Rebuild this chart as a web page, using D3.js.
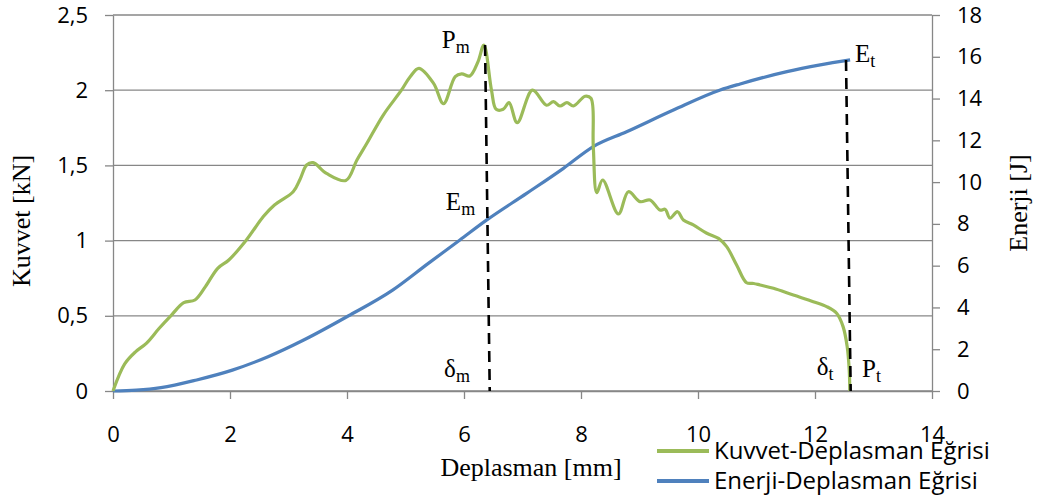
<!DOCTYPE html>
<html><head><meta charset="utf-8">
<script src="https://cdn.jsdelivr.net/npm/d3@7"></script>
<style>
html,body{margin:0;padding:0;background:#fff;}
svg{display:block;}
</style>
</head><body>
<svg id="chart" width="1042" height="500"></svg>
<script>
// ---- Data ----
const forceX = [0,0.2,0.39,0.57,0.79,1.0,1.21,1.40,1.58,1.79,1.98,2.28,2.57,2.76,3.08,3.2,3.31,3.42,3.65,3.98,4.17,4.34,4.62,4.93,5.08,5.23,5.48,5.65,5.85,5.96,6.10,6.24,6.34,6.47,6.55,6.67,6.77,6.91,7.17,7.41,7.53,7.64,7.76,7.87,8.07,8.17,8.21,8.27,8.37,8.64,8.81,9.01,9.18,9.35,9.44,9.52,9.65,9.75,9.92,10.15,10.35,10.49,10.66,10.83,10.95,11.06,11.29,11.63,11.97,12.20,12.37,12.48,12.55,12.585,12.595];
const forceY = [0,0.18,0.262,0.317,0.417,0.505,0.587,0.605,0.694,0.816,0.871,1.004,1.16,1.237,1.325,1.41,1.503,1.518,1.447,1.40,1.536,1.647,1.835,2.0,2.09,2.145,2.045,1.91,2.09,2.108,2.095,2.19,2.30,2.0,1.873,1.873,1.917,1.784,2.0,1.90,1.924,1.895,1.917,1.895,1.96,1.946,1.624,1.318,1.403,1.177,1.325,1.259,1.27,1.203,1.208,1.150,1.192,1.137,1.104,1.049,1.015,0.96,0.838,0.72,0.715,0.705,0.683,0.638,0.594,0.561,0.517,0.428,0.295,0.14,0];
const energyX = [0,0.4,0.82,1.43,2.04,2.65,3.26,4.02,4.78,5.39,5.93,6.39,7.07,7.70,8.21,8.78,9.58,10.38,10.72,11.52,12.09,12.60];
const energyY = [0,0.04,0.16,0.53,1.0,1.64,2.44,3.59,4.83,6.11,7.23,8.19,9.46,10.66,11.70,12.41,13.45,14.41,14.70,15.29,15.61,15.85];
const xTicks = [0,2,4,6,8,10,12,14];
const leftTicks = [0,0.5,1,1.5,2,2.5];
const leftTickLabels = ["0","0,5","1","1,5","2","2,5"];
const rightTicks = [0,2,4,6,8,10,12,14,16,18];
// dashed marker lines: [xTop, yTop(kN), xBottom, yBottom(kN)]
const markerLines = [[6.36,2.30,6.44,0],[12.53,2.201,12.61,0]];
// annotation labels: [main, sub, x, y(kN)]
const annotations = [["P","m",5.62,2.281],["E","m",5.69,1.203],["E","t",12.684,2.188],["δ","m",5.66,0.093],["δ","t",12.03,0.106],["P","t",12.803,0.093]];
const seriesNames = ["Kuvvet-Deplasman Eğrisi","Enerji-Deplasman Eğrisi"];
const seriesColors = ["#9BBB59","#4F81BD"];

// ---- Chart ----
const svg = d3.select("#chart");
const L=113, R=932, T=15, B=391;
const x = d3.scaleLinear().domain([0,14]).range([L,R]);
const yL = d3.scaleLinear().domain([0,2.5]).range([B,T]);
const yR = d3.scaleLinear().domain([0,18]).range([B,T]);
const gridColor = "#878787";
const sans = "'Open Sans', Lato, sans-serif";
const serif = "'Liberation Serif', 'DejaVu Serif', serif";

// gridlines
svg.append("g").selectAll("line").data(leftTicks).join("line")
  .attr("x1",L).attr("x2",R).attr("y1",d=>yL(d)).attr("y2",d=>yL(d))
  .attr("stroke",gridColor).attr("stroke-width",1.3);

function styleAxis(g){
  g.selectAll("path.domain").attr("stroke",gridColor).attr("stroke-width",1.3);
  g.selectAll(".tick line").attr("stroke",gridColor).attr("stroke-width",1.3);
  g.selectAll(".tick text").attr("fill","#000").style("font-family",sans).style("font-size","22px");
}
const gl = svg.append("g").attr("transform",`translate(${L},0)`)
  .call(d3.axisLeft(yL).tickValues(leftTicks).tickFormat((d,i)=>leftTickLabels[i]).tickSize(8).tickSizeOuter(0).tickPadding(17));
styleAxis(gl);
const gr = svg.append("g").attr("transform",`translate(${R},0)`)
  .call(d3.axisRight(yR).tickValues(rightTicks).tickSize(8).tickSizeOuter(0).tickPadding(17));
styleAxis(gr);
const gb = svg.append("g").attr("transform",`translate(0,${B})`)
  .call(d3.axisBottom(x).tickValues(xTicks).tickSize(8).tickSizeOuter(0).tickPadding(27));
styleAxis(gb);
gb.selectAll(".tick text").attr("dy","0.71em");

// lines
const lineF = d3.line().x(d=>x(d[0])).y(d=>yL(d[1])).curve(d3.curveCatmullRom.alpha(0.5));
const lineE = d3.line().x(d=>x(d[0])).y(d=>yR(d[1])).curve(d3.curveMonotoneX);
const forceData = forceX.map((v,i)=>[v,forceY[i]]);
const energyData = energyX.map((v,i)=>[v,energyY[i]]);

svg.append("path").datum(energyData).attr("d",lineE).attr("fill","none")
  .attr("stroke",seriesColors[1]).attr("stroke-width",3.2).attr("stroke-linejoin","round");
svg.append("path").datum(forceData).attr("d",lineF).attr("fill","none")
  .attr("stroke",seriesColors[0]).attr("stroke-width",3.2).attr("stroke-linejoin","round");

// dashed markers
svg.append("g").selectAll("line").data(markerLines).join("line")
  .attr("x1",d=>x(d[0])).attr("y1",d=>yL(d[1])).attr("x2",d=>x(d[2])).attr("y2",d=>yL(d[3]))
  .attr("stroke","#000").attr("stroke-width",2.6).attr("stroke-dasharray","11,7");

// annotations
const ann = svg.append("g").selectAll("text").data(annotations).join("text")
  .attr("x",d=>x(d[2])).attr("y",d=>yL(d[3]))
  .style("font-family",serif).style("font-size","25px").attr("fill","#000");
ann.append("tspan").text(d=>d[0]);
ann.append("tspan").attr("dy",5).style("font-size","18px").text(d=>d[1]);

// axis titles
svg.append("text").attr("transform","translate(30,221) rotate(-90)").attr("text-anchor","middle")
  .style("font-family",serif).style("font-size","26px").text("Kuvvet [kN]");
svg.append("text").attr("transform","translate(1027,203) rotate(-90)").attr("text-anchor","middle")
  .style("font-family",serif).style("font-size","26px").text("Enerji [J]");
svg.append("text").attr("x",531).attr("y",476).attr("text-anchor","middle")
  .style("font-family",serif).style("font-size","26px").text("Deplasman [mm]");

// legend
const lg = svg.append("g").selectAll("g").data(seriesNames).join("g")
  .attr("transform",(d,i)=>`translate(657,${451+i*30})`);
lg.append("line").attr("x1",0).attr("x2",52).attr("y1",0).attr("y2",0)
  .attr("stroke",(d,i)=>seriesColors[i]).attr("stroke-width",4);
lg.append("text").attr("x",57).attr("y",8).text(d=>d)
  .style("font-family",sans).style("font-size","24px").attr("fill","#000");
</script>
</body></html>
